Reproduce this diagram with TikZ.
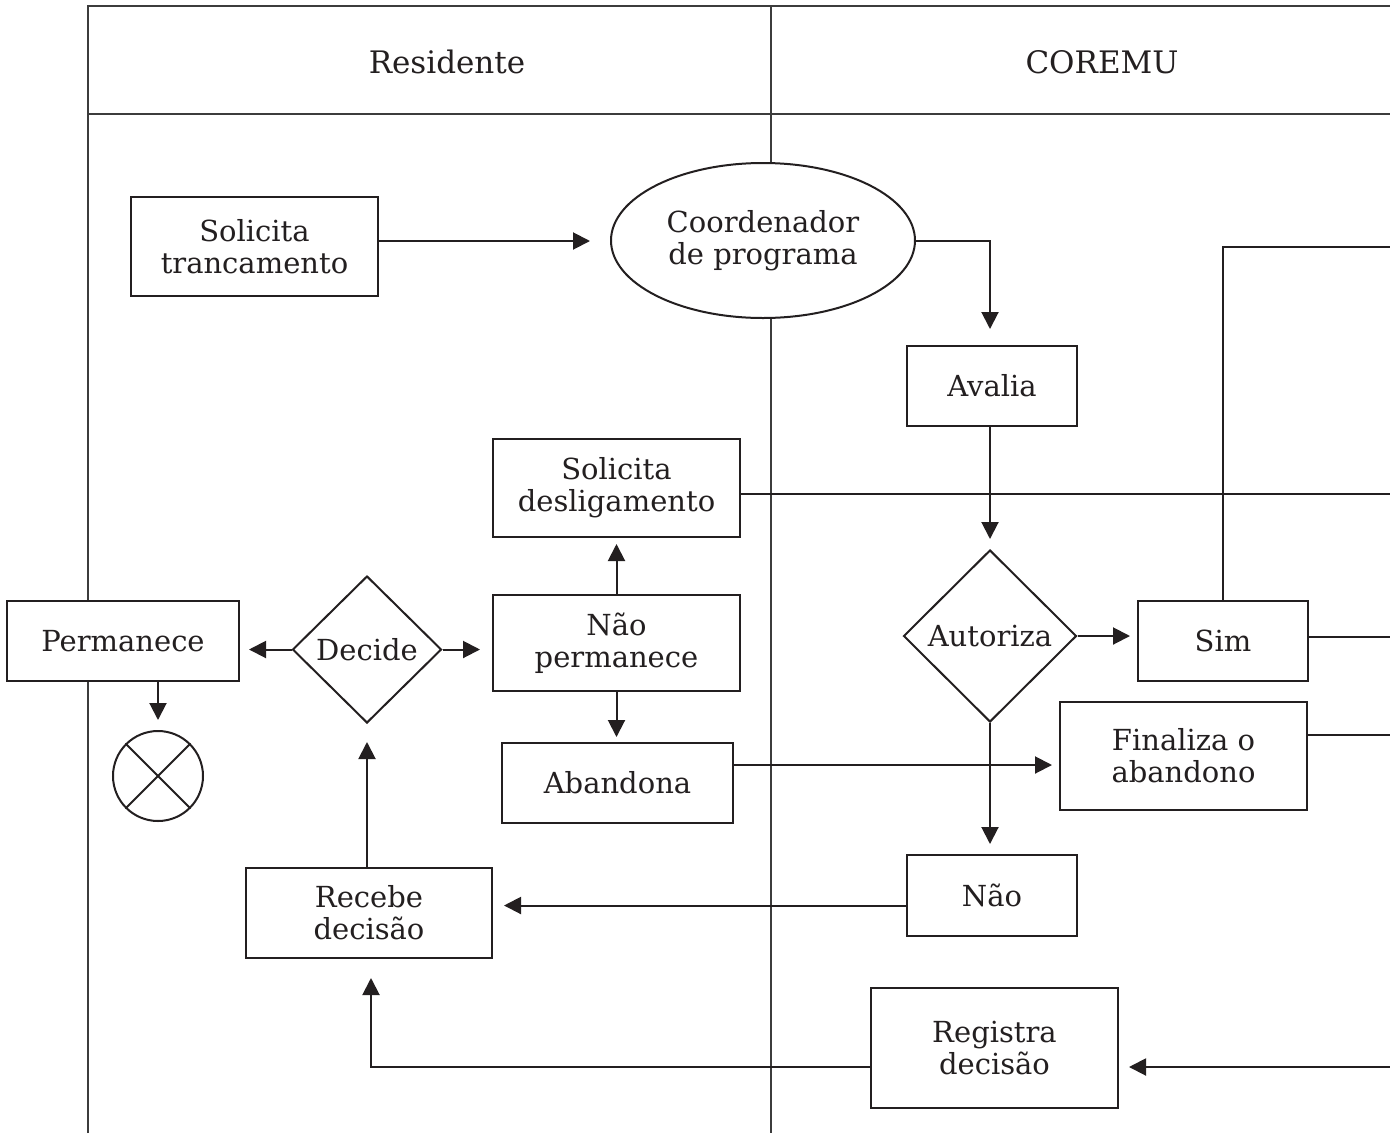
\documentclass[tikz,border=0pt]{standalone}
\usepackage{fontspec}
\setmainfont{DejaVu Serif}
\usetikzlibrary{shapes.geometric,arrows.meta,calc}
\definecolor{ink}{RGB}{35,31,32}
\definecolor{lane}{RGB}{60,60,60}
\tikzset{
  txt/.style={font=\fontsize{29}{32}\selectfont, text=ink, align=center, inner sep=0pt},
  head/.style={font=\fontsize{31}{34}\selectfont, text=ink, inner sep=0pt},
  stepbox/.style={txt, draw=ink, line width=2pt, fill=white, rectangle},
  decbox/.style={txt, draw=ink, line width=2pt, fill=white, diamond},
  flow/.style={draw=ink, line width=2pt, -{Triangle[length=17pt,width=17pt]}},
  plain/.style={draw=ink, line width=2pt},
  lanel/.style={draw=lane, line width=2.5pt}
}
\begin{document}
\begin{tikzpicture}[x=1pt,y=-1pt]
\useasboundingbox (0,0) rectangle (1390,1133);
% swimlanes
\draw[lanel] (88,1133) -- (88,6) -- (1390,6);
\draw[lanel] (88,114) -- (1390,114);
\draw[lanel] (771,6) -- (771,1133);
\node[head] (h1) at (447,62) {Residente};
\node[head] (h2) at (1102,62) {COREMU};
% nodes
\node[stepbox, minimum width=247pt, minimum height=99pt] (st) at (254.5,246.5) {Solicita\\trancamento};
\node[txt, draw=ink, line width=2pt, fill=white, ellipse, minimum width=304pt, minimum height=155pt] (co) at (763,240.5) {Coordenador\\de programa};
\node[stepbox, minimum width=170pt, minimum height=80pt] (av) at (992,386) {Avalia};
\node[decbox, minimum width=173pt, minimum height=172pt] (au) at (990,636) {Autoriza};
\node[stepbox, minimum width=170pt, minimum height=80pt] (sim) at (1223,641) {Sim};
\node[stepbox, minimum width=247pt, minimum height=108pt] (fin) at (1183.5,756) {Finaliza o\\abandono};
\node[stepbox, minimum width=170pt, minimum height=81pt] (nao) at (992,895.5) {Não};
\node[stepbox, minimum width=247pt, minimum height=120pt] (reg) at (994.5,1048) {Registra\\decisão};
\node[stepbox, minimum width=246pt, minimum height=90pt] (rec) at (369,913) {Recebe\\decisão};
\node[stepbox, minimum width=247pt, minimum height=98pt] (sd) at (616.5,488) {Solicita\\desligamento};
\node[stepbox, minimum width=247pt, minimum height=96pt] (np) at (616.5,643) {Não\\permanece};
\node[stepbox, minimum width=231pt, minimum height=80pt] (ab) at (617.5,783) {Abandona};
\node[decbox, minimum width=149pt, minimum height=147pt] (de) at (367,649.5) {Decide};
\node[stepbox, minimum width=232pt, minimum height=80pt] (pe) at (123,641) {Permanece};
\node[draw=ink, line width=2pt, fill=white, circle, minimum size=90pt, inner sep=0pt] (ci) at (158,776) {};
\draw[plain] (ci.45) -- (ci.225);
\draw[plain] (ci.135) -- (ci.315);
% edge coordinates at right border
\coordinate (e1) at (1390,247);
\coordinate (e2) at (1390,494);
\coordinate (e3) at (1390,637);
\coordinate (e4) at (1390,735);
\coordinate (e5) at (1390,1067);
\coordinate (sto) at (378,241);
\coordinate (abo) at ($(ab.east)+(0,-18)$);
\coordinate (naw) at ($(nao.west)+(0,10)$);
% connectors
\draw[flow, shorten >=20pt] (sto) -- (sto -| co.west);
\draw[flow, shorten >=16pt] (co.east) -| (au.north |- av.north);
\draw[flow, shorten >=10pt] (au.north |- av.south) -- (au.north);
\draw[flow, shorten >=7pt] (au.east) -- (au.east -| sim.west);
\draw[plain] (sim.north) |- (e1);
\draw[plain] (sim.east |- e3) -- (e3);
\draw[flow, shorten >=10pt] (au.south) -- (au.south |- nao.north);
\draw[plain] (fin.east |- e4) -- (e4);
\draw[flow, shorten >=11pt] (naw) -- (naw -| rec.east);
\draw[flow, shorten >=10pt] (e5) -- (reg.east |- e5);
\draw[flow, shorten >=19pt] (reg.west |- e5) -| ($(rec.south)+(2,0)$);
\draw[plain] (sd.east |- e2) -- (e2);
\draw[flow, shorten >=7pt] (abo) -- (abo -| fin.west);
\draw[flow, shorten >=6pt] (np.north) -- (sd.south);
\draw[flow, shorten >=5pt] (np.south) -- (np.south |- ab.north);
\draw[flow, shorten >=12pt] (de.east) -- (de.east -| np.west);
\draw[flow, shorten >=9pt] (de.west) -- (de.west -| pe.east);
\draw[flow, shorten >=18pt] (de.south |- rec.north) -- (de.south);
\draw[flow, shorten >=10pt] (pe.south -| ci.north) -- (ci.north);
\end{tikzpicture}
\end{document}
